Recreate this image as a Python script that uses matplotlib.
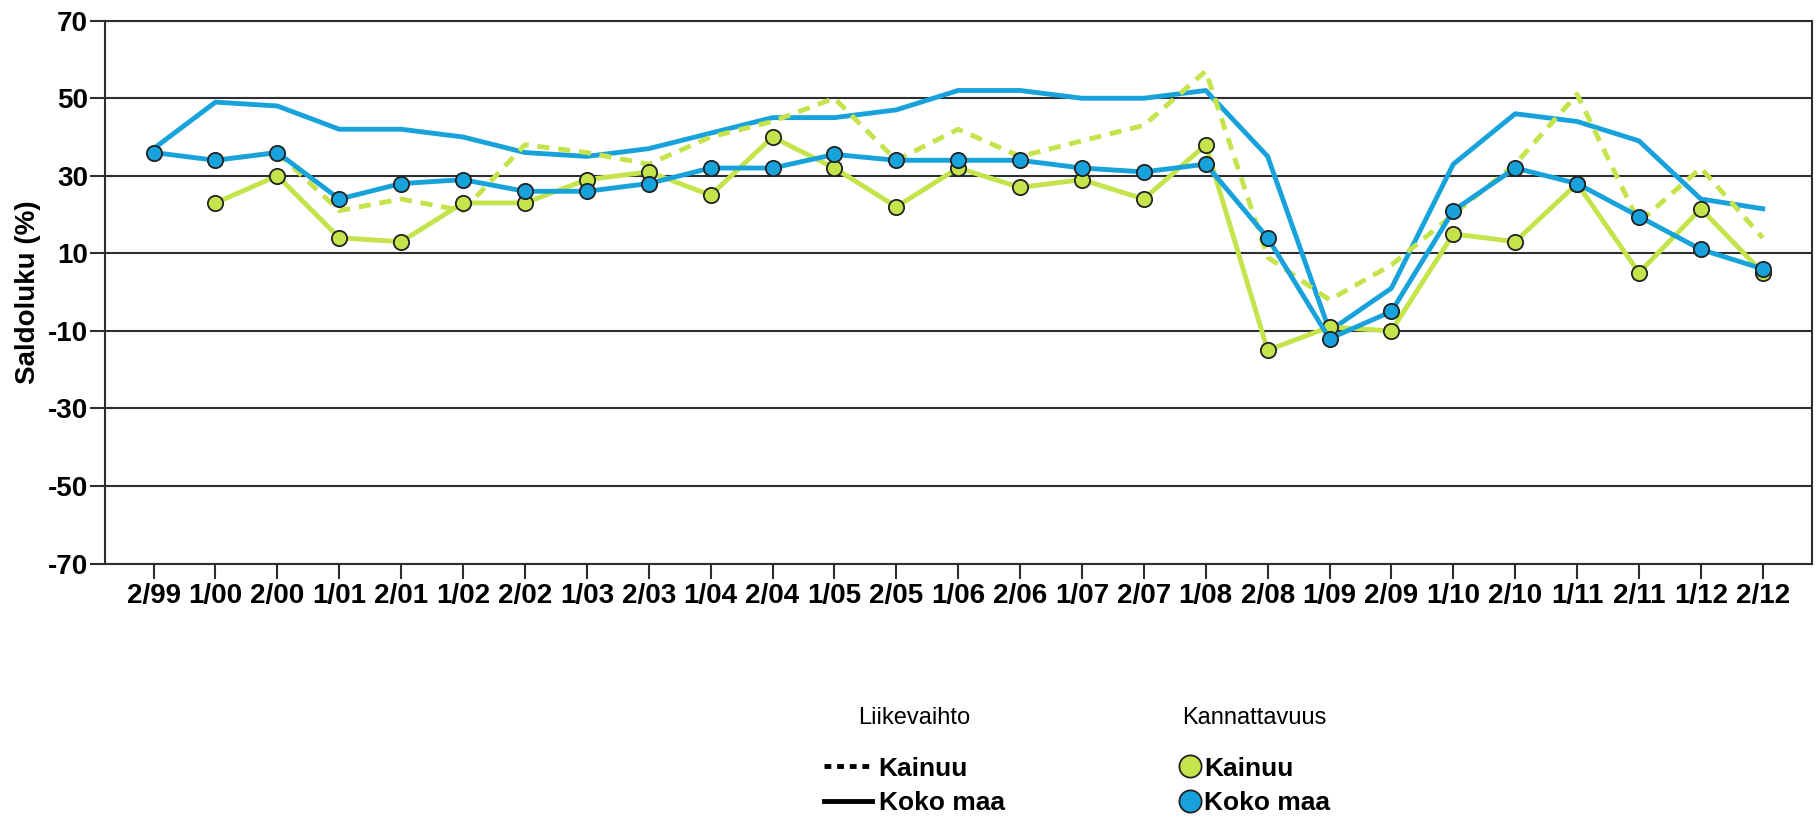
import numpy as np
import matplotlib
matplotlib.use('Agg')
import matplotlib.pyplot as plt
from matplotlib.lines import Line2D

plt.rcParams['font.family'] = ['Liberation Sans', 'DejaVu Sans']
plt.rcParams['axes.unicode_minus'] = False

# Data
quarters = ['2/99', '1/00', '2/00', '1/01', '2/01', '1/02', '2/02', '1/03', '2/03',
            '1/04', '2/04', '1/05', '2/05', '1/06', '2/06', '1/07', '2/07', '1/08',
            '2/08', '1/09', '2/09', '1/10', '2/10', '1/11', '2/11', '1/12', '2/12']

liikevaihto_kainuu = [np.nan, 34, 36, 21, 24, 21, 38, 36, 33, 40, 44, 50, 34, 42, 35,
                      39, 43, 57, 9, -2, 7, 20, 33, 51, 18, 32, 14]
liikevaihto_koko_maa = [37, 49, 48, 42, 42, 40, 36, 35, 37, 41, 45, 45, 47, 52, 52,
                        50, 50, 52, 35, -10, 1, 33, 46, 44, 39, 24, 21.5]
kannattavuus_kainuu = [np.nan, 23, 30, 14, 13, 23, 23, 29, 31, 25, 40, 32, 22, 32, 27,
                       29, 24, 38, -15, -9, -10, 15, 13, 28, 5, 21.5, 5]
kannattavuus_koko_maa = [36, 34, 36, 24, 28, 29, 26, 26, 28, 32, 32, 35.5, 34, 34, 34,
                         32, 31, 33, 14, -12, -5, 21, 32, 28, 19.5, 11, 6]

y_ticks = [-70, -50, -30, -10, 10, 30, 50, 70]

green = '#c5e34b'
blue = '#17a2dc'
dark = '#2e2e2e'

fig = plt.figure(figsize=(18.19, 8.18), dpi=100)
ax = fig.add_axes([0.0579, 0.3111, 0.9384, 0.6636])

x = np.arange(len(quarters))

ax.plot(x, liikevaihto_koko_maa, color=blue, lw=3.5, zorder=3)
ax.plot(x, liikevaihto_kainuu, color=green, lw=3.5, dashes=(2.5, 1.8), zorder=3)
ax.plot(x, kannattavuus_kainuu, color=green, lw=3.5, marker='o', markersize=11,
        markerfacecolor=green, markeredgecolor='#222222', markeredgewidth=1.3, zorder=4)
ax.plot(x, kannattavuus_koko_maa, color=blue, lw=3.5, marker='o', markersize=11,
        markerfacecolor=blue, markeredgecolor='#222222', markeredgewidth=1.3, zorder=5)

ax.set_ylim(-70, 70)
ax.set_xlim(-0.78, len(quarters) - 1 + 0.8)
ax.set_yticks(y_ticks)
ax.set_xticks(x)
ax.set_xticklabels(quarters)
ax.grid(axis='y', color=dark, lw=1.5)
ax.set_axisbelow(True)

for s in ax.spines.values():
    s.set_color(dark)
    s.set_linewidth(1.5)

ax.tick_params(axis='both', direction='out', length=11, width=1.5, color=dark,
               labelsize=20)
ax.tick_params(axis='y', pad=1.5)
ax.tick_params(axis='x', pad=3)
for lab in ax.get_xticklabels() + ax.get_yticklabels():
    lab.set_fontweight('bold')

ax.set_ylabel('Saldoluku (%)', fontsize=20, fontweight='bold', labelpad=5)

# legends
label_font = {'size': 19, 'weight': 'bold'}
title_font = {'size': 17}

h1 = [Line2D([], [], color='black', lw=3.5, dashes=(1.4, 1.2)),
      Line2D([], [], color='black', lw=3.5)]
leg1 = fig.legend(h1, ['Kainuu', 'Koko maa'], title='Liikevaihto', loc='upper left',
                  bbox_to_anchor=(0.446, 0.152), frameon=False, borderpad=0,
                  prop=label_font, title_fontproperties=title_font,
                  handlelength=1.8, handletextpad=0.25, labelspacing=0.4)

h2 = [Line2D([], [], ls='none', marker='o', markersize=16, markerfacecolor=green,
             markeredgecolor='#222222', markeredgewidth=1.3),
      Line2D([], [], ls='none', marker='o', markersize=16, markerfacecolor=blue,
             markeredgecolor='#222222', markeredgewidth=1.3)]
leg2 = fig.legend(h2, ['Kainuu', 'Koko maa'], title='Kannattavuus', loc='upper left',
                  bbox_to_anchor=(0.641, 0.152), frameon=False, borderpad=0,
                  prop=label_font, title_fontproperties=title_font,
                  handlelength=0.8, handletextpad=0.15, labelspacing=0.4)

# more room between legend title and entries
for leg in (leg1, leg2):
    leg._legend_box.sep = 20

fig.savefig('out.png', dpi=100)
